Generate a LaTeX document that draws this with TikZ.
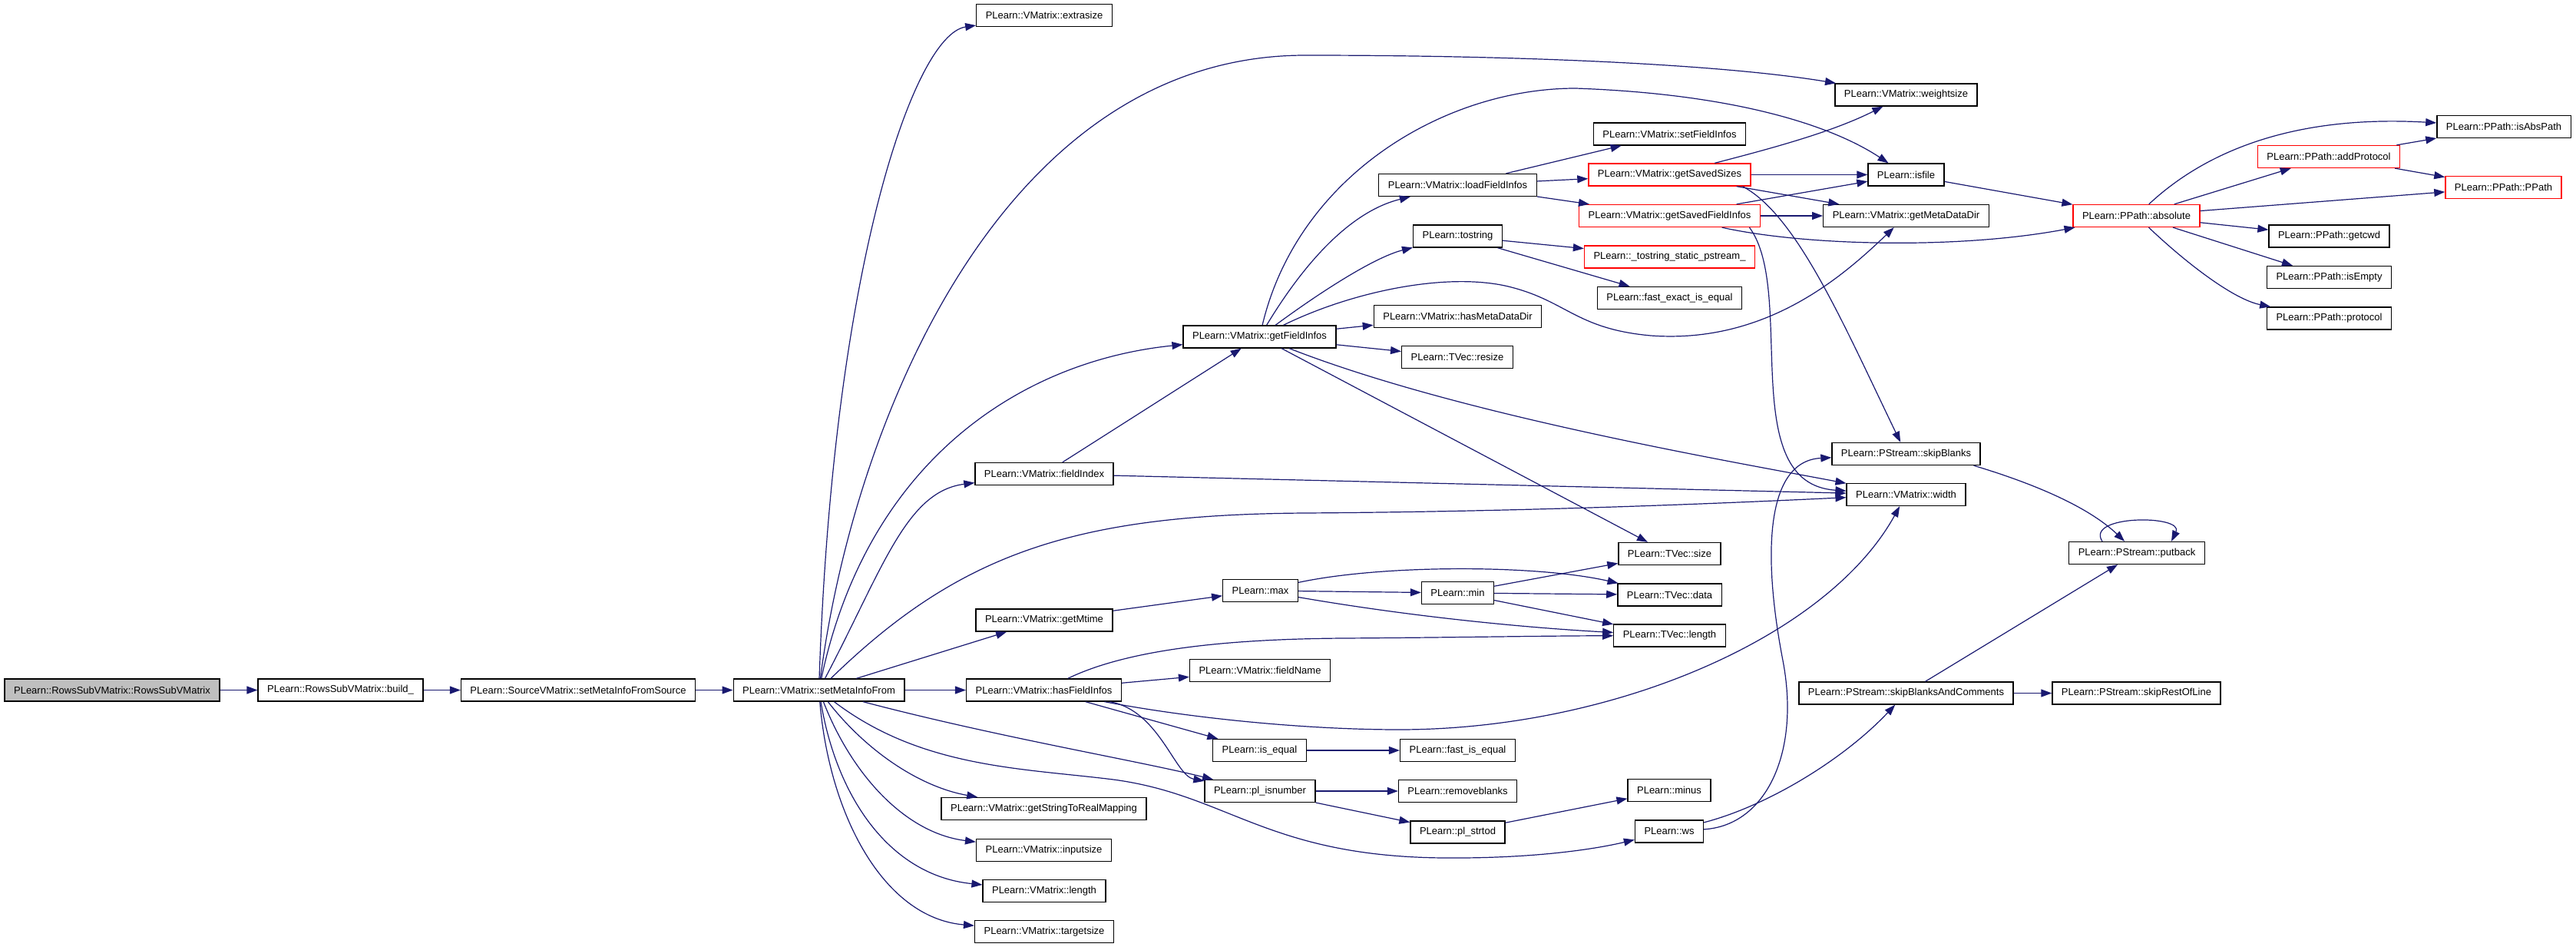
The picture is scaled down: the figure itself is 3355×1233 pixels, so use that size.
\documentclass[tikz,border=0pt]{standalone}
\usepackage{fontspec}
\usetikzlibrary{arrows.meta}
\newfontfamily\fnfont{Liberation Sans}
\definecolor{callblue}{HTML}{191970}
\definecolor{rootgray}{HTML}{BFBFBF}

\begin{document}
\begin{tikzpicture}[x=1pt, y=-1pt,
    fnnode/.style={draw=black, line width=1.3pt, fill=white, inner xsep=12pt, inner ysep=0pt,
      minimum height=29pt, font=\fnfont\fontsize{13}{15}\selectfont},
    cutnode/.style={fnnode, draw=red},
    rootnode/.style={fnnode, fill=rootgray},
    call/.style={callblue, line width=1.2pt, -{Triangle[length=14pt,width=10pt]}}]
    \useasboundingbox (0,0) rectangle (3355,1233);

    \node[rootnode] (root) at (146,898.5) {PLearn::RowsSubVMatrix::RowsSubVMatrix};
    \node[fnnode] (build) at (443.5,898.5) {PLearn::RowsSubVMatrix::build\_};
    \node[fnnode] (setsrc) at (753,898.5) {PLearn::SourceVMatrix::setMetaInfoFromSource};
    \node[fnnode] (setmeta) at (1066.5,898.5) {PLearn::VMatrix::setMetaInfoFrom};

    \node[fnnode] (extrasize) at (1360,20) {PLearn::VMatrix::extrasize};
    \node[fnnode] (fieldindex) at (1360,617) {PLearn::VMatrix::fieldIndex};
    \node[fnnode] (getmtime) at (1360,807.5) {PLearn::VMatrix::getMtime};
    \node[fnnode] (hasfi) at (1359.5,898.5) {PLearn::VMatrix::hasFieldInfos};
    \node[fnnode] (getstrmap) at (1359.5,1053) {PLearn::VMatrix::getStringToRealMapping};
    \node[fnnode] (inputsize) at (1359.5,1107) {PLearn::VMatrix::inputsize};
    \node[fnnode] (vlength) at (1360,1160) {PLearn::VMatrix::length};
    \node[fnnode] (targetsize) at (1360,1213) {PLearn::VMatrix::targetsize};

    \node[fnnode] (getfi) at (1640.5,438.5) {PLearn::VMatrix::getFieldInfos};
    \node[fnnode] (maxf) at (1641.5,769) {PLearn::max};
    \node[fnnode] (fieldname) at (1641,873) {PLearn::VMatrix::fieldName};
    \node[fnnode] (isequal) at (1640.5,977) {PLearn::is\_equal};
    \node[fnnode] (isnum) at (1641,1030) {PLearn::pl\_isnumber};

    \node[fnnode] (loadfi) at (1898.5,241) {PLearn::VMatrix::loadFieldInfos};
    \node[fnnode] (tostr) at (1898.5,307.5) {PLearn::tostring};
    \node[fnnode] (hasmdd) at (1898.5,412) {PLearn::VMatrix::hasMetaDataDir};
    \node[fnnode] (resize) at (1898,465) {PLearn::TVec::resize};
    \node[fnnode] (minf) at (1898.5,772) {PLearn::min};
    \node[fnnode] (fastisequal) at (1898.5,977) {PLearn::fast\_is\_equal};
    \node[fnnode] (removeblanks) at (1898.5,1030) {PLearn::removeblanks};
    \node[fnnode] (strtod) at (1898.5,1083.5) {PLearn::pl\_strtod};

    \node[fnnode] (setfi) at (2174.5,174.5) {PLearn::VMatrix::setFieldInfos};
    \node[cutnode] (savedsizes) at (2174.5,227.5) {PLearn::VMatrix::getSavedSizes};
    \node[cutnode] (savedfi) at (2174.5,281) {PLearn::VMatrix::getSavedFieldInfos};
    \node[cutnode] (tostrstatic) at (2174.5,334.5) {PLearn::\_tostring\_static\_pstream\_};
    \node[fnnode] (fastexact) at (2174.5,388) {PLearn::fast\_exact\_is\_equal};
    \node[fnnode] (tsize) at (2174.5,721) {PLearn::TVec::size};
    \node[fnnode] (tdata) at (2174.5,774.5) {PLearn::TVec::data};
    \node[fnnode] (tlength) at (2174.5,827.5) {PLearn::TVec::length};
    \node[fnnode] (minus) at (2174,1029) {PLearn::minus};
    \node[fnnode] (ws) at (2174,1082.5) {PLearn::ws};

    \node[fnnode] (weightsize) at (2482.5,123.5) {PLearn::VMatrix::weightsize};
    \node[fnnode] (isfile) at (2482.5,227.5) {PLearn::isfile};
    \node[fnnode] (metadir) at (2482.5,281) {PLearn::VMatrix::getMetaDataDir};
    \node[fnnode] (skipblanks) at (2482.5,591) {PLearn::PStream::skipBlanks};
    \node[fnnode] (width) at (2482.5,644) {PLearn::VMatrix::width};
    \node[fnnode] (skipbc) at (2482.5,902.5) {PLearn::PStream::skipBlanksAndComments};

    \node[cutnode] (absolute) at (2782.5,281) {PLearn::PPath::absolute};
    \node[fnnode] (putback) at (2783,720) {PLearn::PStream::putback};
    \node[fnnode] (restofline) at (2782.5,902.5) {PLearn::PStream::skipRestOfLine};

    \node[cutnode] (addproto) at (3033,204) {PLearn::PPath::addProtocol};
    \node[fnnode] (getcwd) at (3033.5,307.5) {PLearn::PPath::getcwd};
    \node[fnnode] (isempty) at (3033.5,361) {PLearn::PPath::isEmpty};
    \node[fnnode] (protocol) at (3033.5,414.5) {PLearn::PPath::protocol};
    \node[fnnode] (isabs) at (3261,165) {PLearn::PPath::isAbsPath};
    \node[cutnode] (ppath) at (3260.5,244) {PLearn::PPath::PPath};

    \path[call]
    (root) edge (build)
    (build) edge (setsrc)
    (setsrc) edge (setmeta)
    (setmeta) edge (getmtime)
    (setmeta) edge (hasfi)
    (getmtime) edge (maxf)
    (fieldindex) edge (getfi)
    (fieldindex) edge (width)
    (getfi) edge (hasmdd)
    (getfi) edge (resize)
    (getfi) edge (tsize)
    (loadfi) edge (setfi)
    (loadfi) edge (savedsizes)
    (loadfi) edge (savedfi)
    (tostr) edge (tostrstatic)
    (tostr) edge (fastexact)
    (savedsizes) edge (isfile)
    (savedsizes) edge (metadir)
    (savedfi) edge (isfile)
    (savedfi) edge (metadir)
    (isfile) edge (absolute)
    (absolute) edge (addproto)
    (absolute) edge (ppath)
    (absolute) edge (getcwd)
    (absolute) edge (isempty)
    (addproto) edge (isabs)
    (addproto) edge (ppath)
    (hasfi) edge (fieldname)
    (hasfi) edge (isequal)
    (isequal) edge (fastisequal)
    (isnum) edge (removeblanks)
    (isnum) edge (strtod)
    (strtod) edge (minus)
    (maxf) edge (minf)
    (minf) edge (tsize)
    (minf) edge (tdata)
    (minf) edge (tlength)
    (skipbc) edge (putback)
    (skipbc) edge (restofline);

    \draw[call] (setmeta) .. controls (1085,350) and (1190,45) .. (extrasize);
    \draw[call] (setmeta) .. controls (1110,560) and (1300,72) .. (1700,72)
      .. controls (2000,72) and (2250,85) .. (weightsize);
    \draw[call] (setmeta) .. controls (1130,600) and (1330,470) .. (getfi);
    \draw[call] (setmeta) .. controls (1150,740) and (1180,640) .. (fieldindex);
    \draw[call] (setmeta) .. controls (1250,720) and (1400,670) .. (1700,668)
      .. controls (2000,666) and (2250,655) .. (width);
    \draw[call] (setmeta) .. controls (1130,980) and (1200,1025) .. (getstrmap);
    \draw[call] (setmeta) .. controls (1110,1010) and (1180,1085) .. (inputsize);
    \draw[call] (setmeta) .. controls (1090,1040) and (1160,1140) .. (vlength);
    \draw[call] (setmeta) .. controls (1080,1060) and (1150,1195) .. (targetsize);
    \draw[call] (setmeta) .. controls (1300,960) and (1480,990) .. (isnum);
    \draw[call] (setmeta) .. controls (1200,1000) and (1330,1000) .. (1450,1015)
      .. controls (1600,1035) and (1650,1115) .. (1880,1117)
      .. controls (2000,1118) and (2080,1105) .. (ws);

    \draw[call] (hasfi) .. controls (1470,845) and (1600,832) .. (1750,831)
      .. controls (1900,830) and (2000,828) .. (tlength);
    \draw[call] (hasfi) .. controls (1510,925) and (1530,1010) .. (isnum);
    \draw[call] (hasfi) .. controls (1550,935) and (1700,950) .. (1822,950)
      .. controls (2100,950) and (2380,830) .. (width);

    \draw[call] (getfi) .. controls (1700,340) and (1760,275) .. (loadfi);
    \draw[call] (getfi) .. controls (1720,380) and (1790,335) .. (tostr);
    \draw[call] (getfi) .. controls (1690,230) and (1880,115) .. (2052,115)
      .. controls (2250,122) and (2380,160) .. (isfile);
    \draw[call] (getfi) .. controls (1760,380) and (1880,355) .. (1960,372)
      .. controls (2040,390) and (2050,428) .. (2150,437)
      .. controls (2300,448) and (2400,360) .. (metadir);
    \draw[call] (getfi) .. controls (1900,540) and (2250,600) .. (width);

    \draw[call] (savedsizes) .. controls (2320,190) and (2390,170) .. (weightsize);
    \draw[call] ([xshift=95pt]savedsizes.south) .. controls (2340,280) and (2400,420) .. (skipblanks);
    \draw[call] (savedfi) .. controls (2350,320) and (2550,325) .. (absolute);
    \draw[call] ([xshift=104pt]savedfi.south) .. controls (2340,380) and (2260,630) .. (width);

    \draw[call] (absolute) .. controls (2880,190) and (3000,150) .. (isabs);
    \draw[call] (absolute) .. controls (2850,345) and (2910,390) .. (protocol);

    \draw[call] ([xshift=88pt]skipblanks.south) .. controls (2650,630) and (2720,660) .. (putback);
    \draw[call] ([xshift=-45pt]putback.north) .. controls (2715,670) and (2845,670) .. ([xshift=45pt]putback.north);
    \draw[call] (ws) .. controls (2300,1050) and (2400,990) .. (skipbc);
    \draw[call] (ws) .. controls (2300,1075) and (2345,980) .. (2322,860)
      .. controls (2295,720) and (2300,600) .. (skipblanks);

    \draw[call] (maxf) .. controls (1800,735) and (2000,735) .. (tdata);
    \draw[call] (maxf) .. controls (1850,805) and (2000,818) .. (tlength);
\end{tikzpicture}
\end{document}
